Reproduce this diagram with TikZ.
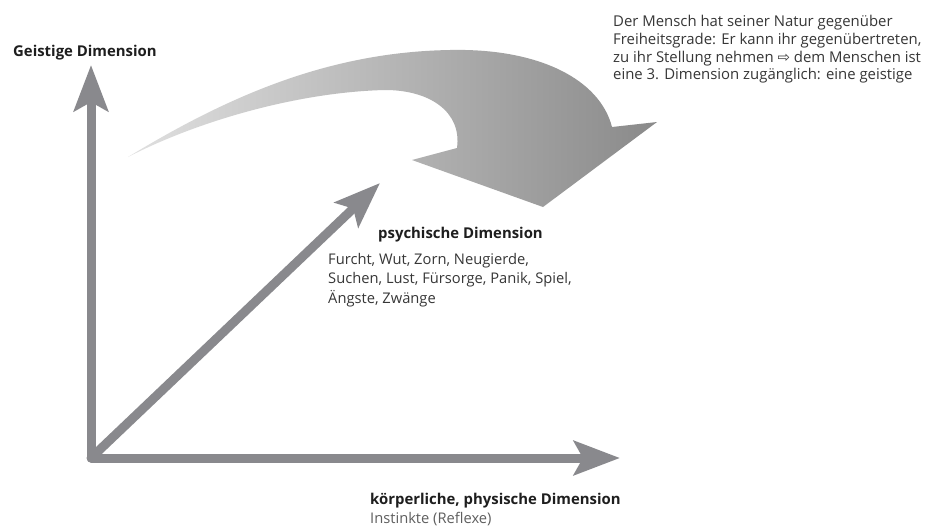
\documentclass[tikz,border=0pt]{standalone}
\usepackage{fontspec}
\setmainfont{Open Sans}
\newfontfamily\symfont{DejaVu Sans}
\usetikzlibrary{arrows.meta}
\definecolor{axisgray}{RGB}{137,137,141}
\definecolor{txtdark}{RGB}{30,30,30}
\definecolor{txtbody}{RGB}{55,55,55}
\definecolor{txtlight}{RGB}{95,95,95}
\tikzset{
  axisline/.style={draw=axisgray, line width=9pt, line join=round,
    arrows={Stealth[length=46pt, width=34pt, inset=9pt]-Stealth[length=46pt, width=34pt, inset=9pt]}},
  diagline/.style={draw=axisgray, line width=9pt, line cap=round,
    -{Stealth[length=46pt, width=34pt, inset=9pt]}},
  titletext/.style={inner sep=0pt, text=txtdark, font=\fontsize{14.9}{17.5}\selectfont\bfseries},
  bodytext/.style={inner sep=0pt, text=txtbody, align=left, font=\fontsize{14.7}{19.5}\selectfont},
  notetext/.style={inner sep=0pt, text=txtbody, align=left, font=\fontsize{14.9}{17.8}\selectfont},
}
\begin{document}
\begin{tikzpicture}[x=1pt, y=-1pt]
\useasboundingbox[fill=white] (0,0) rectangle (935,528);
% big curved arrow
\shade[left color=black!12, right color=black!46]
  (128,157) .. controls (230,95) and (330,52) .. (450,50)
  .. controls (540,48) and (600,80) .. (612,127)
  -- (657,122) -- (543,207) -- (412,160) -- (457,148)
  .. controls (462,112) and (430,90) .. (385,90)
  .. controls (300,92) and (200,120) .. (128,157) -- cycle;
% axes
\coordinate (O) at (91,458);
\coordinate (Ytip) at (91,65);
\coordinate (Xtip) at (620,458);
\coordinate (Dtip) at (380,183);
\draw[axisline] (Ytip) -- (O) -- (Xtip);
\draw[diagline] (O) -- (Dtip);
% texts
\node[titletext, anchor=west] (geist) at (13,53) {Geistige Dimension};
\node[notetext, anchor=north west] (note) at (613,15) {Der Mensch hat seiner Natur gegenüber\\Freiheitsgrade: Er kann ihr gegenübertreten,\\zu ihr Stellung nehmen {\symfont ⇨} dem Menschen ist\\eine 3. Dimension zugänglich: eine geistige};
\node[titletext, anchor=west] (psy) at (378,235) {psychische Dimension};
\node[bodytext, anchor=north west] (psybody) at (328,253) {Furcht, Wut, Zorn, Neugierde,\\Suchen, Lust, Fürsorge, Panik, Spiel,\\Ängste, Zwänge};
\node[titletext, anchor=west] (koerp) at (370,501) {körperliche, physische Dimension};
\node[bodytext, anchor=west, text=txtlight] (instinkt) at (370,519) {Instinkte (Reflexe)};
\end{tikzpicture}
\end{document}
